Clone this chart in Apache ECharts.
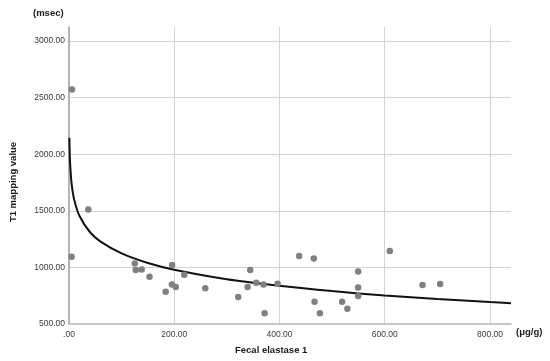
<!DOCTYPE html>
<html>
<head>
<meta charset="utf-8">
<script src="https://cdn.jsdelivr.net/npm/echarts@6/dist/echarts.min.js"></script>
<style>html,body{margin:0;padding:0;background:#fff}#c{width:550px;height:361px}</style>
</head>
<body>
<div id="c"></div>
<script>
// Scatter points: [Fecal elastase 1 (μg/g), T1 mapping value (msec)]
var fecalElastase = [5.7, 5, 36.7, 125, 126.7, 138, 153, 183.7, 196, 195.6, 203, 219, 259, 321.6, 339.4, 344.4, 355.8, 369.8, 371.7, 396.4, 437.4, 465.3, 466.7, 476.8, 519, 529, 549.5, 549.5, 549.5, 609.7, 671.8, 705.3];
var t1Values = [2572, 1094, 1512, 1035, 977, 982, 918, 785, 1021, 850, 827, 935, 815, 738, 827, 977, 865, 850, 594, 856, 1100, 1079, 697, 594, 697, 635, 965, 823, 747, 1145, 845, 853];

// Fitted curve
var curveX = [0.7, 1, 2, 5, 10, 20, 40, 60, 100, 150, 200, 300, 400, 500, 600, 700, 800, 840];
var curveY = [2145, 2071, 1928, 1739, 1597, 1454, 1311, 1228, 1124, 1039, 980, 896, 838, 791, 752, 721, 694, 684];

var xTicks = [0, 200, 400, 600, 800];
var yTicks = [500, 1000, 1500, 2000, 2500, 3000];

var scatterData = fecalElastase.map(function (x, i) { return [x, t1Values[i]]; });
var curveData = curveX.map(function (x, i) { return [x, curveY[i]]; });

function fmt(v) {
  var s = Number(v).toFixed(2);
  return s.replace(/^0\./, '.');
}

var chart = echarts.init(document.getElementById('c'), null, { renderer: 'canvas' });
chart.setOption({
  animation: false,
  backgroundColor: '#ffffff',
  grid: { left: 69, right: 39, top: 27, bottom: 37, containLabel: false },
  xAxis: {
    type: 'value',
    min: 0, max: 840, interval: 200,
    axisLine: { show: true, lineStyle: { color: '#b5b5b5', width: 1.5 } },
    axisTick: { show: false },
    splitLine: { show: true, showMinLine: false, showMaxLine: false, lineStyle: { color: '#d3d3d3', width: 1 } },
    axisLabel: {
      margin: 6, color: '#3a3a3a', fontSize: 8.5, fontFamily: 'Liberation Sans, Arial, sans-serif',
      showMaxLabel: false,
      formatter: function (v) { return xTicks.indexOf(v) >= 0 ? fmt(v) : ''; }
    }
  },
  yAxis: {
    type: 'value',
    min: 500, max: 3125, interval: 500,
    axisLine: { show: true, lineStyle: { color: '#9a9a9a', width: 1.5 } },
    axisTick: { show: false },
    splitLine: { show: true, showMinLine: false, showMaxLine: false, lineStyle: { color: '#d3d3d3', width: 1 } },
    axisLabel: {
      margin: 4, color: '#3a3a3a', fontSize: 8.5, fontFamily: 'Liberation Sans, Arial, sans-serif',
      showMaxLabel: false,
      formatter: function (v) { return yTicks.indexOf(v) >= 0 ? fmt(v) : ''; }
    }
  },
  graphic: [
    { type: 'text', left: 33, top: 8, style: { text: '(msec)', font: 'bold 9.5px "Liberation Sans", Arial, sans-serif', fill: '#1a1a1a' } },
    { type: 'text', left: 516, top: 327, style: { text: '(μg/g)', font: 'bold 9.5px "Liberation Sans", Arial, sans-serif', fill: '#1a1a1a' } },
    { type: 'text', left: 235, top: 345, style: { text: 'Fecal elastase 1', font: 'bold 9.5px "Liberation Sans", Arial, sans-serif', fill: '#1a1a1a' } },
    { type: 'text', x: 13, y: 182, rotation: Math.PI / 2,
      style: { text: 'T1 mapping value', font: 'bold 9.5px "Liberation Sans", Arial, sans-serif', fill: '#1a1a1a', align: 'center', verticalAlign: 'middle' } }
  ],
  series: [
    {
      type: 'line', data: curveData, smooth: 0.3, showSymbol: false, symbol: 'none',
      lineStyle: { color: '#111111', width: 2 }, z: 3
    },
    {
      type: 'scatter', data: scatterData, symbolSize: 6.5,
      itemStyle: { color: '#808080', opacity: 1 }, z: 4
    }
  ]
});
</script>
</body>
</html>
